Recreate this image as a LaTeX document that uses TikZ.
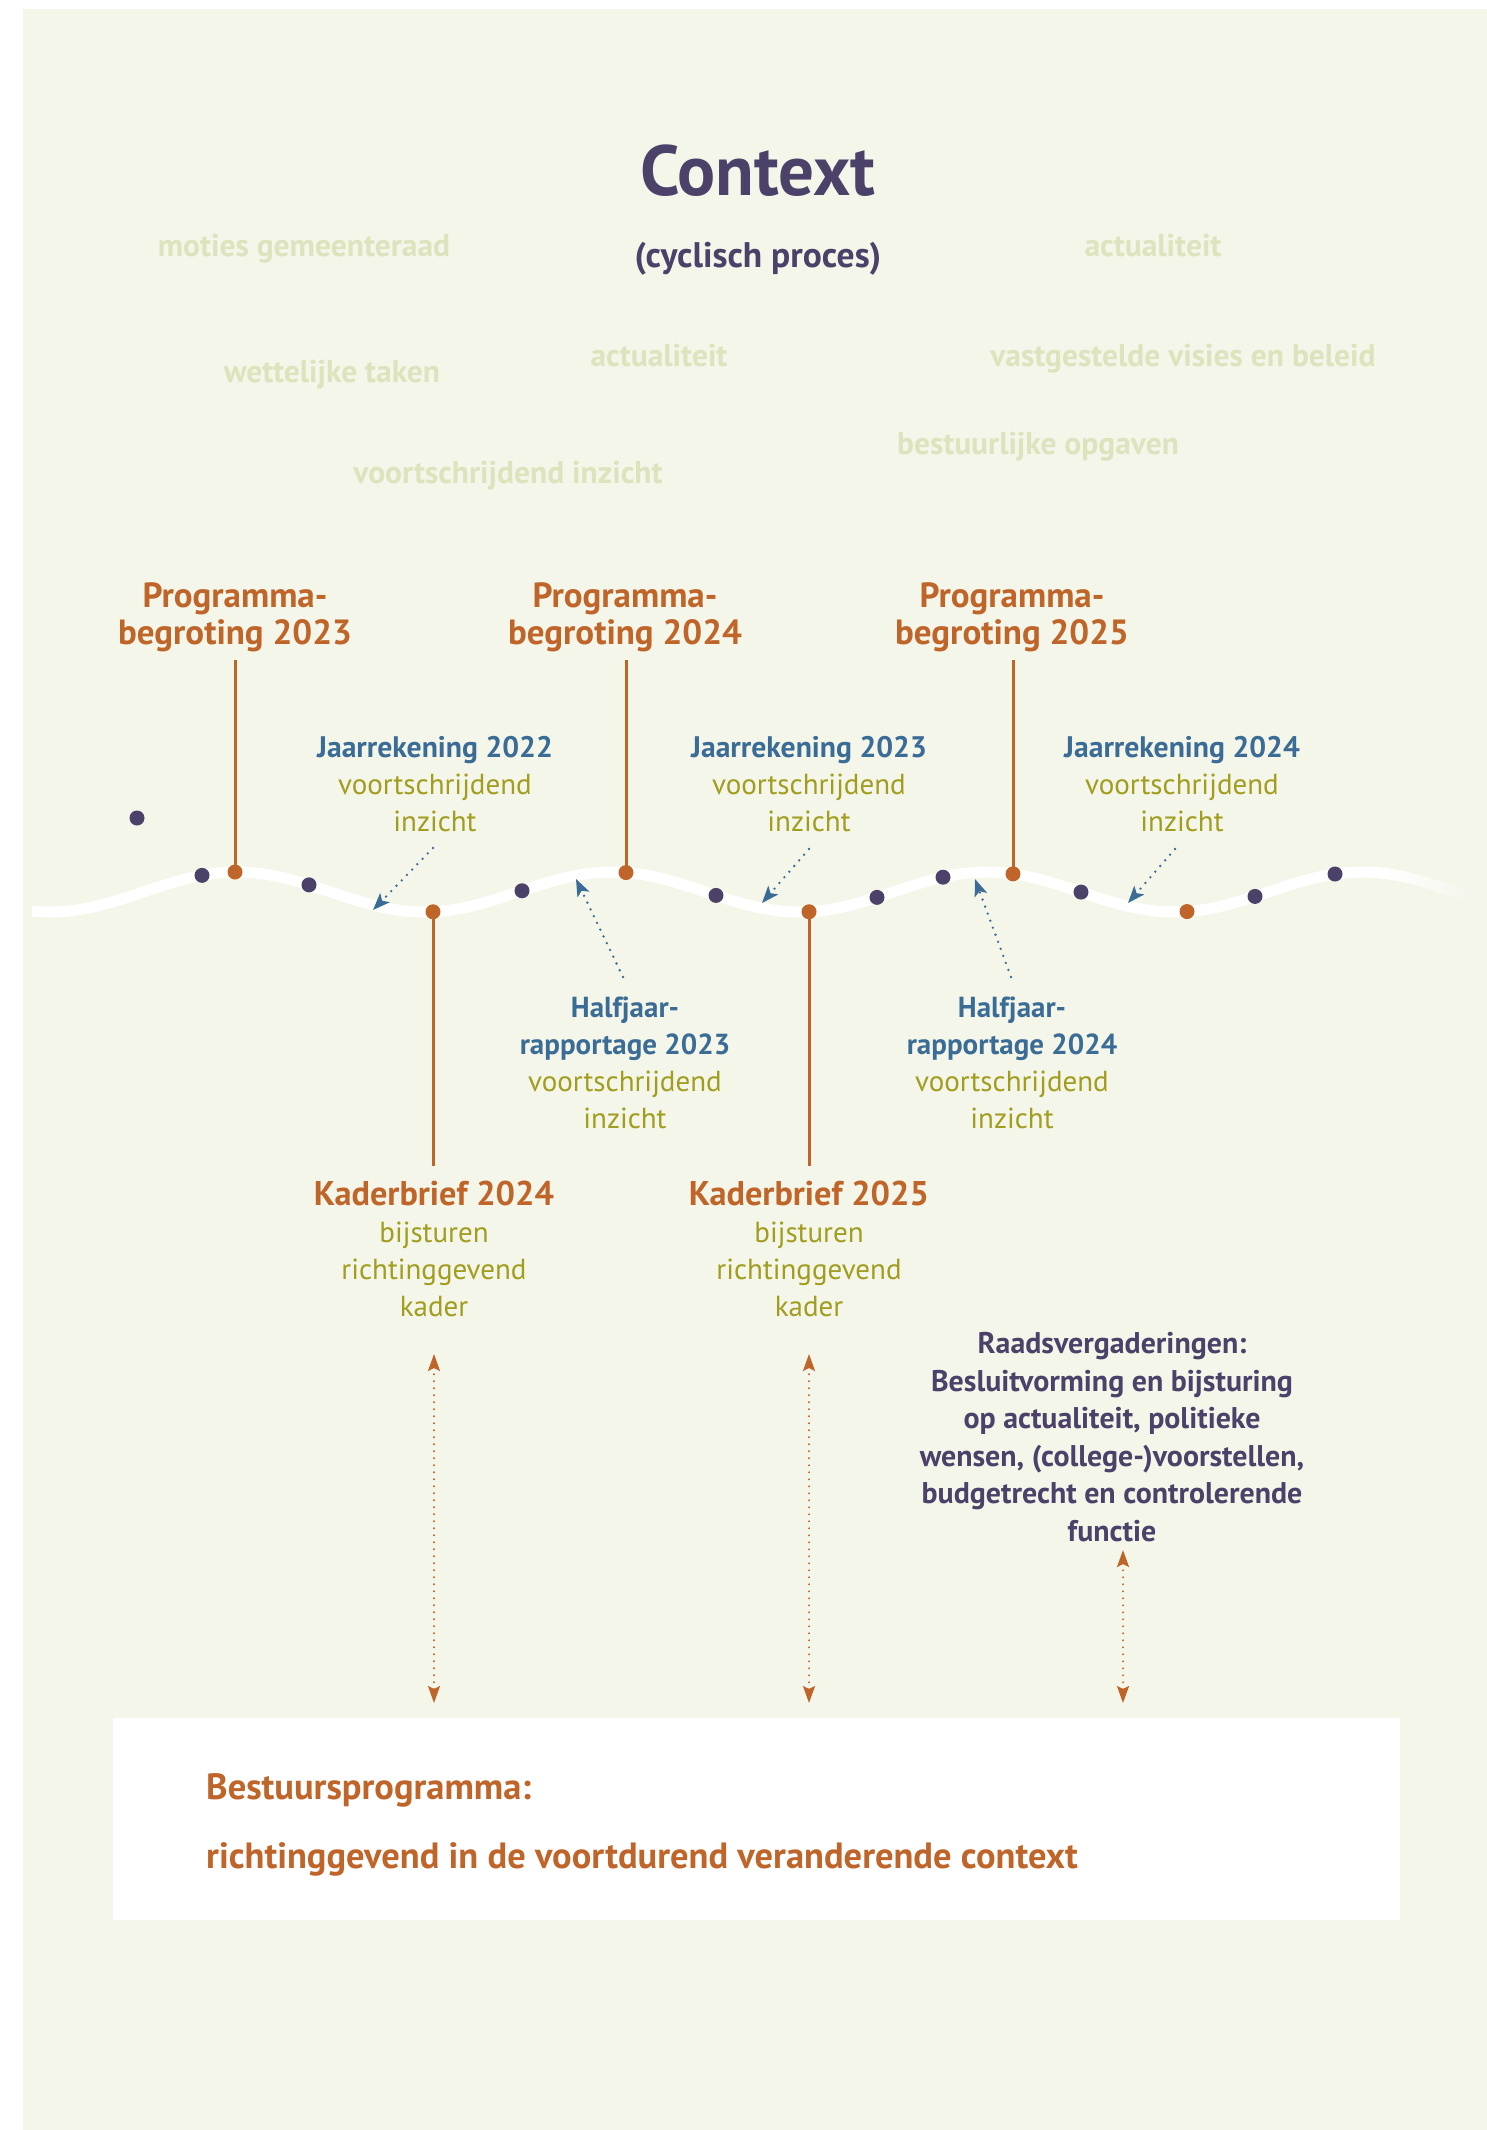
\documentclass[tikz,border=0pt]{standalone}
\usepackage{fontspec}
\setmainfont{PT Sans}
\usetikzlibrary{arrows.meta}
\definecolor{bg}{RGB}{244,246,234}
\definecolor{ctx}{RGB}{221,227,189}
\definecolor{pur}{RGB}{75,65,105}
\definecolor{org}{RGB}{192,101,42}
\definecolor{blu}{RGB}{59,108,149}
\definecolor{oli}{RGB}{161,157,31}
\newcommand\fsz[2]{\fontsize{#1}{#2}\selectfont}
\begin{document}
\begin{tikzpicture}[x=1pt,y=-1pt,
  ctxword/.style={text=ctx, font=\bfseries\fsz{31.5}{36}, inner sep=0, anchor=base},
  orglabel/.style={text=org, font=\bfseries\fsz{35}{37}, align=center, inner sep=0},
  mixlabel/.style={align=center, inner sep=0, font=\fsz{29}{37}},
  dot/.style={circle, inner sep=0, minimum size=15pt},
  vline/.style={draw=org, line width=3pt},
  barrow/.style={draw=blu, line width=2.6pt, dash pattern=on 0pt off 7.5pt, line cap=round,
     -{Stealth[length=17pt,width=13pt,inset=4pt,fill=blu]}},
  oarrow/.style={draw=org, line width=2.2pt, dash pattern=on 0pt off 7pt, line cap=round,
     {Stealth[length=17pt,width=12pt,inset=3pt,fill=org]}-{Stealth[length=17pt,width=12pt,inset=3pt,fill=org]}},
]
\useasboundingbox (0,0) rectangle (1487,2130);
\fill[white] (0,0) rectangle (1487,2130);
\fill[bg] (23,9) rectangle (1487,2130);

% title
\node[text=pur, font=\bfseries\fsz{71}{75}, inner sep=0, anchor=base] (title) at (758,195) {Context};
\node[text=pur, font=\bfseries\fsz{35.5}{40}, inner sep=0, anchor=base] (sub) at (758,267) {(cyclisch proces)};

% context words
\node[ctxword] (c1) at (304,256) {moties gemeenteraad};
\node[ctxword] (c2) at (1153,256) {actualiteit};
\node[ctxword] (c3) at (332,382) {wettelijke taken};
\node[ctxword] (c4) at (659,366) {actualiteit};
\node[ctxword] (c5) at (1183,366) {vastgestelde visies en beleid};
\node[ctxword] (c6) at (1038,454) {bestuurlijke opgaven};
\node[ctxword] (c7) at (508,483) {voortschrijdend inzicht};

% wave
\draw[white, line width=11pt] plot[domain=32:1390, samples=300] (\x,{892-20*cos(0.96*(\x-237))});
\foreach \i in {0,...,9} {
  \pgfmathsetmacro\xa{1390+\i*9}
  \pgfmathsetmacro\xb{\xa+9}
  \pgfmathsetmacro\op{1-(\i+0.5)/10}
  \draw[white, line width=11pt, opacity=\op] plot[domain=\xa:\xb, samples=5] (\x,{892-20*cos(0.96*(\x-237))});
}

% labels
\node[orglabel] (p23) at (235,617) {Programma-\\begroting 2023};
\node[orglabel] (p24) at (625,617) {Programma-\\begroting 2024};
\node[orglabel] (p25) at (1012,617) {Programma-\\begroting 2025};

\node[mixlabel] (j22) at (435,784) {\textcolor{blu}{\bfseries\fsz{29.7}{37}Jaarrekening 2022}\\\textcolor{oli}{voortschrijdend}\\\textcolor{oli}{inzicht}};
\node[mixlabel] (j23) at (809,784) {\textcolor{blu}{\bfseries\fsz{29.7}{37}Jaarrekening 2023}\\\textcolor{oli}{voortschrijdend}\\\textcolor{oli}{inzicht}};
\node[mixlabel] (j24) at (1182,784) {\textcolor{blu}{\bfseries\fsz{29.7}{37}Jaarrekening 2024}\\\textcolor{oli}{voortschrijdend}\\\textcolor{oli}{inzicht}};

\node[mixlabel] (h23) at (625,1063) {\textcolor{blu}{\bfseries Halfjaar-}\\\textcolor{blu}{\bfseries rapportage 2023}\\\textcolor{oli}{voortschrijdend}\\\textcolor{oli}{inzicht}};
\node[mixlabel] (h24) at (1012,1063) {\textcolor{blu}{\bfseries Halfjaar-}\\\textcolor{blu}{\bfseries rapportage 2024}\\\textcolor{oli}{voortschrijdend}\\\textcolor{oli}{inzicht}};

\node[mixlabel] (k24) at (434,1249) {\textcolor{org}{\bfseries\fsz{34.3}{37}Kaderbrief 2024}\\\textcolor{oli}{bijsturen}\\\textcolor{oli}{richtinggevend}\\\textcolor{oli}{kader}};
\node[mixlabel] (k25) at (809,1249) {\textcolor{org}{\bfseries\fsz{34.3}{37}Kaderbrief 2025}\\\textcolor{oli}{bijsturen}\\\textcolor{oli}{richtinggevend}\\\textcolor{oli}{kader}};

\node[text=pur, font=\bfseries\fsz{29.9}{37.5}, align=center, inner sep=0] (raad) at (1112,1437)
 {Raadsvergaderingen:\\Besluitvorming en bijsturing\\op actualiteit, politieke\\wensen, (college-)voorstellen,\\budgetrecht en controlerende\\functie};

% isolated dot
\node[dot, fill=pur] (d0) at (137,818) {};
% wave dots
\foreach \xx/\cc/\nn in {202/pur/w1, 235/org/w2, 309/pur/w3, 433/org/w4, 522/pur/w5, 626/org/w6, 716/pur/w7, 809/org/w8, 877/pur/w9, 943/pur/w10, 1013/org/w11, 1081/pur/w12, 1187/org/w13, 1255/pur/w14, 1335/pur/w15} {
  \pgfmathsetmacro\yy{892-20*cos(0.96*(\xx-237))}
  \coordinate (\nn) at (\xx,\yy);
}
% vertical lines
\draw[vline, shorten <=8pt] (w2 |- p23.south) -- (w2);
\draw[vline, shorten <=8pt] (w6 |- p24.south) -- (w6);
\draw[vline, shorten <=8pt] (w11 |- p25.south) -- (w11);
\draw[vline, shorten >=15pt] (w4) -- (w4 |- k24.north);
\draw[vline, shorten >=15pt] (w8) -- (w8 |- k25.north);

\foreach \xx/\cc/\nn in {202/pur/w1, 235/org/w2, 309/pur/w3, 433/org/w4, 522/pur/w5, 626/org/w6, 716/pur/w7, 809/org/w8, 877/pur/w9, 943/pur/w10, 1013/org/w11, 1081/pur/w12, 1187/org/w13, 1255/pur/w14, 1335/pur/w15} {
  \node[dot, fill=\cc] (n\nn) at (\nn) {};
}

% blue dotted arrows
\coordinate (j22a) at (433,848); \coordinate (j22b) at (373,910);
\coordinate (j23a) at (809,849); \coordinate (j23b) at (762,903);
\coordinate (j24a) at (1175,849); \coordinate (j24b) at (1128,903);
\coordinate (h23a) at (623,977); \coordinate (h23b) at (576,879);
\coordinate (h24a) at (1011,977); \coordinate (h24b) at (975,879);
\draw[barrow] (j22a) -- (j22b);
\draw[barrow] (j23a) -- (j23b);
\draw[barrow] (j24a) -- (j24b);
\draw[barrow] (h23a) -- (h23b);
\draw[barrow] (h24a) -- (h24b);

% bottom box
\node[fill=white, minimum width=1287pt, minimum height=202pt, inner sep=0] (box) at (756.5,1819) {};
\node[text=org, font=\bfseries\fsz{36.5}{40}, inner sep=0, anchor=base west] (bt1) at (206,1799) {Bestuursprogramma:};
\node[text=org, font=\bfseries\fsz{36.5}{40}, inner sep=0, anchor=base west] (bt2) at (206,1868) {richtinggevend in de voortdurend veranderende context};

% orange dotted double arrows
\coordinate (o1a) at (434,1354); \coordinate (o1b) at (434,1703);
\coordinate (o2a) at (809,1354); \coordinate (o2b) at (809,1703);
\coordinate (o3a) at (1123,1550); \coordinate (o3b) at (1123,1703);
\draw[oarrow] (o1a) -- (o1b);
\draw[oarrow] (o2a) -- (o2b);
\draw[oarrow] (o3a) -- (o3b);
\end{tikzpicture}
\end{document}
